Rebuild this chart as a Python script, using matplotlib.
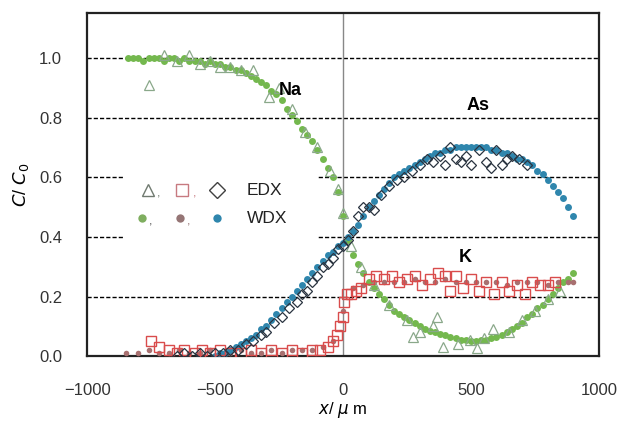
import matplotlib
matplotlib.use("Agg")
import matplotlib.pyplot as plt
from matplotlib.patches import Rectangle

plt.rcParams['font.family'] = ['Liberation Sans', 'DejaVu Sans']

# ---------------- data ----------------
na_wdx_x = [-840, -820, -800, -780, -760, -740, -720, -700, -680, -660, -640, -620, -600, -580,
            -560, -540, -520, -500, -480, -460, -440, -420, -400, -380, -360, -340, -320, -300,
            -280, -260, -240, -220, -200, -180, -160, -140, -120, -100, -80, -60, -40, -20, 0,
            20, 40, 60, 80, 100, 120, 140, 160, 180, 200, 220, 240, 260, 280, 300, 320, 340,
            360, 380, 400, 420, 440, 460, 480, 500, 520, 540, 560, 580, 600, 620, 640, 660,
            680, 700, 720, 740, 760, 780, 800, 820, 840, 860, 880, 900]
na_wdx_y = [1.00, 1.00, 1.00, 0.99, 1.00, 1.00, 1.00, 0.99, 1.00, 1.00, 0.99, 1.00, 0.99, 0.99,
            0.99, 0.98, 0.99, 0.98, 0.98, 0.97, 0.97, 0.96, 0.96, 0.95, 0.94, 0.93, 0.92, 0.91,
            0.89, 0.88, 0.86, 0.83, 0.81, 0.79, 0.76, 0.74, 0.72, 0.69, 0.66, 0.63, 0.60, 0.55, 0.47,
            0.39, 0.34, 0.31, 0.28, 0.25, 0.23, 0.21, 0.19, 0.17, 0.15, 0.14, 0.13, 0.12, 0.11, 0.10,
            0.09, 0.085, 0.08, 0.075, 0.07, 0.065, 0.06, 0.055, 0.055, 0.05, 0.05, 0.055, 0.055,
            0.06, 0.065, 0.07, 0.08, 0.09, 0.10, 0.11, 0.13, 0.14, 0.16, 0.17, 0.19, 0.21, 0.23,
            0.25, 0.26, 0.28]

na_edx_x = [-760, -700, -650, -600, -560, -520, -480, -440, -400, -350, -290, -250, -200, -150,
            -100, -50, -20, 0, 30, 70, 120, 180, 250, 275, 300, 350, 367, 390, 450, 496, 523, 550,
            586, 650, 700, 750, 800, 850]
na_edx_y = [0.91, 1.01, 0.99, 1.01, 0.98, 0.99, 0.97, 0.97, 0.96, 0.96, 0.87, 0.90, 0.83, 0.75,
            0.70, 0.62, 0.56, 0.48, 0.37, 0.30, 0.24, 0.17, 0.12, 0.065, 0.08, 0.10, 0.13, 0.03,
            0.04, 0.054, 0.027, 0.06, 0.09, 0.08, 0.12, 0.15, 0.19, 0.22]

as_wdx_x = [-500, -480, -460, -440, -420, -400, -380, -360, -340, -320, -300, -280, -260, -240,
            -220, -200, -180, -160, -140, -120, -100, -80, -60, -40, -20, 0, 20, 40, 60, 80, 100,
            120, 140, 160, 180, 200, 220, 240, 260, 280, 300, 320, 340, 360, 380, 400, 420, 440,
            460, 480, 500, 520, 540, 560, 580, 600, 620, 640, 660, 680, 700, 720, 740, 760, 780,
            800, 820, 840, 860, 880, 900]
as_wdx_y = [0.00, 0.01, 0.01, 0.02, 0.03, 0.04, 0.05, 0.06, 0.07, 0.09, 0.10, 0.12, 0.14, 0.16,
            0.18, 0.20, 0.22, 0.24, 0.26, 0.28, 0.30, 0.32, 0.34, 0.35, 0.37, 0.38, 0.40, 0.42,
            0.44, 0.47, 0.50, 0.52, 0.54, 0.56, 0.58, 0.60, 0.61, 0.62, 0.63, 0.64, 0.65, 0.66,
            0.67, 0.68, 0.68, 0.69, 0.69, 0.70, 0.70, 0.70, 0.70, 0.70, 0.70, 0.70, 0.69, 0.69,
            0.68, 0.68, 0.67, 0.66, 0.66, 0.65, 0.64, 0.62, 0.61, 0.59, 0.57, 0.55, 0.53, 0.50, 0.47]

as_edx_x = [-650, -620, -590, -560, -530, -500, -470, -440, -410, -380, -350, -320, -300, -270,
            -240, -210, -180, -160, -140, -120, -100, -80, -60, -40, -20, 0, 20, 40, 60, 80, 100,
            120, 150, 180, 210, 240, 270, 300, 330, 350, 380, 400, 420, 440, 460, 480, 500, 530,
            560, 580, 600, 620, 640, 660, 690, 720]
as_edx_y = [0.00, 0.01, 0.00, 0.01, 0.00, 0.01, 0.01, 0.02, 0.02, 0.04, 0.05, 0.07, 0.08, 0.11,
            0.13, 0.16, 0.18, 0.21, 0.22, 0.25, 0.27, 0.30, 0.31, 0.33, 0.36, 0.37, 0.39, 0.42,
            0.47, 0.50, 0.50, 0.49, 0.54, 0.57, 0.59, 0.60, 0.62, 0.64, 0.66, 0.65, 0.67, 0.64,
            0.70, 0.66, 0.65, 0.67, 0.64, 0.69, 0.65, 0.63, 0.69, 0.64, 0.66, 0.67, 0.66, 0.64]

k_wdx_x = [-850, -800, -760, -720, -680, -640, -600, -560, -520, -480, -440, -400, -360, -320,
           -280, -240, -200, -160, -120, -80, -40, 0, 40, 80, 120, 160, 200, 240, 280, 320, 360,
           400, 440, 480, 520, 560, 600, 640, 680, 720, 760, 800, 840, 880, 900]
k_wdx_y = [0.01, 0.01, 0.02, 0.01, 0.01, 0.02, 0.01, 0.01, 0.02, 0.01, 0.01, 0.02, 0.01, 0.01,
           0.02, 0.01, 0.02, 0.02, 0.02, 0.03, 0.05, 0.15, 0.23, 0.24, 0.25, 0.25, 0.25, 0.25,
           0.26, 0.25, 0.25, 0.26, 0.25, 0.25, 0.25, 0.25, 0.25, 0.24, 0.25, 0.25, 0.25, 0.24,
           0.25, 0.25, 0.25]

k_edx_x = [-750, -720, -680, -650, -620, -580, -550, -520, -480, -440, -400, -360, -320, -280,
           -240, -200, -160, -120, -90, -60, -40, -25, -10, 0, 5, 15, 30, 50, 70, 100, 130, 160,
           190, 220, 250, 280, 310, 340, 370, 400, 420, 440, 470, 500, 530, 560, 590, 620, 650,
           680, 710, 740, 770, 800, 830]
k_edx_y = [0.05, 0.03, 0.02, 0.01, 0.02, 0.01, 0.02, 0.01, 0.02, 0.01, 0.01, 0.02, 0.01, 0.02,
           0.01, 0.02, 0.01, 0.02, 0.02, 0.03, 0.05, 0.07, 0.10, 0.13, 0.18, 0.21, 0.21, 0.22,
           0.23, 0.26, 0.27, 0.26, 0.27, 0.25, 0.26, 0.27, 0.24, 0.26, 0.28, 0.27, 0.22, 0.27,
           0.23, 0.26, 0.22, 0.25, 0.21, 0.25, 0.22, 0.24, 0.21, 0.25, 0.24, 0.24, 0.25]

x_ticks = [-1000, -500, 0, 500, 1000]
x_tick_labels = ['\u22121000', '\u2212500', '0', '500', '1000']
y_ticks = [0.0, 0.2, 0.4, 0.6, 0.8, 1.0]
y_tick_labels = ['0.0', '0.2', '0.4', '0.6', '0.8', '1.0']

# ---------------- colours ----------------
c_green = '#74b84e'
c_green_edge = '#8aa88a'
c_blue = '#2f86ad'
c_red = '#d94c4c'
c_brown = '#a87070'
c_dia = '#2a3440'

fig = plt.figure(figsize=(6.27, 4.23), dpi=100)
ax = fig.add_axes([0.139, 0.158, 0.816, 0.811])

ax.set_xlim(-1000, 1000)
ax.set_ylim(0, 1.15)

# grid lines
for yv in y_ticks[1:]:
    ax.axhline(yv, color='black', lw=1.0, ls=(0, (3, 1.5)), zorder=1)
ax.axvline(0, color='#888888', lw=1.0, zorder=1)

# white legend backdrop
ax.add_patch(Rectangle((-860, 0.37), 760, 0.27, facecolor='white', edgecolor='none', zorder=2))

# WDX
ax.plot(na_wdx_x, na_wdx_y, 'o', color=c_green, ms=5, mew=0, zorder=3)
ax.plot(k_wdx_x, k_wdx_y, 'o', color=c_brown, ms=4, mew=0, zorder=3)
ax.plot(as_wdx_x, as_wdx_y, 'o', color=c_blue, ms=5, mew=0, zorder=3)

# EDX
ax.plot(na_edx_x, na_edx_y, '^', mfc='none', mec=c_green_edge, ms=7, mew=0.9, zorder=4)
ax.plot(k_edx_x, k_edx_y, 's', mfc='none', mec=c_red, ms=7, mew=1.0, zorder=4)
ax.plot(as_edx_x, as_edx_y, 'D', mfc='none', mec=c_dia, ms=5.5, mew=0.9, zorder=4)

# manual legend
ly1, ly2 = 0.557, 0.463
ax.plot([-762], [ly1], '^', mfc='none', mec='#707a70', ms=9, mew=1.0, zorder=5)
ax.plot([-629], [ly1], 's', mfc='none', mec='#c77a80', ms=9, mew=1.0, zorder=5)
ax.plot([-492], [ly1], 'D', mfc='none', mec='#404040', ms=8, mew=1.0, zorder=5)
ax.plot([-785], [ly2], 'o', color='#7fae5f', ms=6, mew=0, zorder=5)
ax.plot([-636], [ly2], 'o', color='#957575', ms=6, mew=0, zorder=5)
ax.plot([-492], [ly2], 'o', color=c_blue, ms=6, mew=0, zorder=5)
ax.text(-728, ly1 - 0.012, ',', fontsize=9, color='#707a70', va='center', ha='left', zorder=5)
ax.text(-585, ly1 - 0.012, ',', fontsize=9, color='#c77a80', va='center', ha='left', zorder=5)
ax.text(-760, ly2 - 0.012, ',', fontsize=9, color='#555555', va='center', ha='left', zorder=5)
ax.text(-610, ly2 - 0.012, ',', fontsize=9, color='#957575', va='center', ha='left', zorder=5)
ax.text(-377, ly1, 'EDX', fontsize=12.5, color='#222222', va='center', ha='left', zorder=5)
ax.text(-377, ly2, 'WDX', fontsize=12.5, color='#222222', va='center', ha='left', zorder=5)

# element labels
ax.text(-207, 0.89, 'Na', fontsize=13, fontweight='bold', ha='center', va='center', zorder=6)
ax.text(527, 0.84, 'As', fontsize=13, fontweight='bold', ha='center', va='center', zorder=6)
ax.text(477, 0.33, 'K', fontsize=13, fontweight='bold', ha='center', va='center', zorder=6)

# axes styling
ax.set_xticks(x_ticks)
ax.set_xticklabels(x_tick_labels)
ax.set_yticks(y_ticks)
ax.set_yticklabels(y_tick_labels)
ax.tick_params(axis='both', length=0, labelsize=12, colors='#333333')
ax.tick_params(axis='x', pad=19)
ax.tick_params(axis='y', pad=18)
for s in ax.spines.values():
    s.set_linewidth(1.6)
    s.set_color('#222222')

ax.set_xlabel(r'$x$/ $\mu$ m', fontsize=12, labelpad=2)
ax.set_ylabel(r'$C$/ $C_0$', fontsize=13, labelpad=6)

fig.savefig('out.png', dpi=100)
